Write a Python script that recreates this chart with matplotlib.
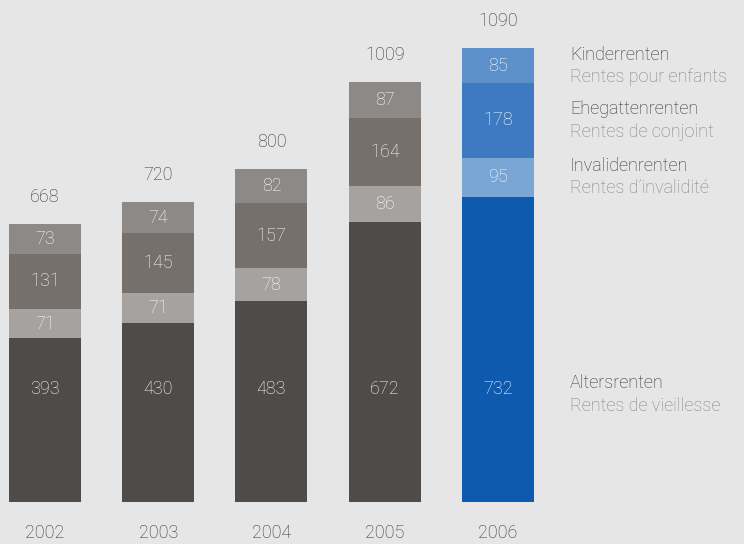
import matplotlib
matplotlib.use("Agg")
import matplotlib.pyplot as plt

years = ["2002", "2003", "2004", "2005", "2006"]
alters = [393, 430, 483, 672, 732]
invalid = [71, 71, 78, 86, 95]
ehegatten = [131, 145, 157, 164, 178]
kinder = [73, 74, 82, 87, 85]
totals = [668, 720, 800, 1009, 1090]

legend_de = ["Altersrenten", "Invalidenrenten", "Ehegattenrenten", "Kinderrenten"]
legend_fr = ["Rentes de vieillesse", "Rentes d\u2019invalidité", "Rentes de conjoint", "Rentes pour enfants"]

grey_cols = ["#4f4b48", "#a5a2a0", "#75706c", "#8d8987"]
blue_cols = ["#0d5aaf", "#7aa6d6", "#3d7ac2", "#5b90cb"]

bg = "#e6e6e6"
plt.rcParams["font.family"] = ["Roboto", "DejaVu Sans"]
fnt = dict(fontsize=13, fontweight="light")

fig = plt.figure(figsize=(7.44, 5.44), dpi=100, facecolor=bg)
ax = fig.add_axes([0, 0, 1, 1])
ax.set_facecolor(bg)
ax.set_xlim(-0.397, 6.172)
ax.set_ylim(-100.8, 1205.3)
ax.axis("off")

w = 0.636
x = list(range(len(years)))
series = [alters, invalid, ehegatten, kinder]
bottoms = [0] * len(years)
label_y = 272  # fixed height for the Altersrenten values

for k, vals in enumerate(series):
    for i in x:
        col = blue_cols[k] if i == len(years) - 1 else grey_cols[k]
        ax.bar(i, vals[i], w, bottom=bottoms[i], color=col, linewidth=0)
        ty = label_y if k == 0 else bottoms[i] + vals[i] / 2
        ax.text(i, ty, str(vals[i]), ha="center", va="center",
                color="#ffffff", **fnt)
    # legend text next to the 2006 bar
    ly = label_y - 14 if k == 0 else bottoms[-1] + vals[-1] / 2
    ax.annotate(legend_de[k], (x[-1] + w / 2, ly), xytext=(26, 8),
                textcoords="offset points", ha="left", va="center",
                color="#35312f", **fnt)
    ax.annotate(legend_fr[k], (x[-1] + w / 2, ly), xytext=(26, -8),
                textcoords="offset points", ha="left", va="center",
                color="#85827f", **fnt)
    bottoms = [b + v for b, v in zip(bottoms, vals)]

for i in x:
    ax.annotate(str(totals[i]), (i, bottoms[i]), xytext=(0, 19.5),
                textcoords="offset points", ha="center", va="center",
                color="#35312f", **fnt)
    ax.annotate(years[i], (i, 0), xytext=(0, -22),
                textcoords="offset points", ha="center", va="center",
                color="#35312f", **fnt)

fig.savefig("out.png", dpi=100, facecolor=bg)
